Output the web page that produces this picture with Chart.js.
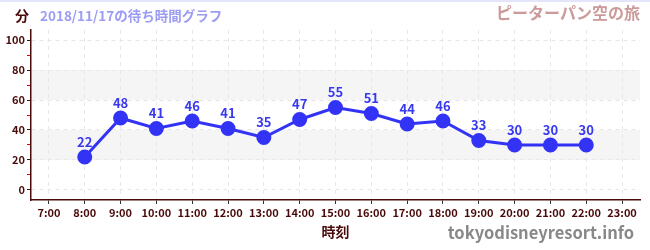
<!DOCTYPE html>
<html>
<head>
<meta charset="utf-8">
<script src="https://cdn.jsdelivr.net/npm/chart.js@4"></script>
<style>
  body { margin: 0; background: #fff; }
  #wrap { width: 650px; height: 250px; position: relative; }
</style>
</head>
<body>
<div id="wrap"><canvas id="waitChart"></canvas></div>
<script>
const hours = [8, 9, 10, 11, 12, 13, 14, 15, 16, 17, 18, 19, 20, 21, 22];
const waits = [22, 48, 41, 46, 41, 35, 47, 55, 51, 44, 46, 33, 30, 30, 30];
const xTicks = [7, 8, 9, 10, 11, 12, 13, 14, 15, 16, 17, 18, 19, 20, 21, 22, 23];
const yTicks = [0, 10, 20, 30, 40, 50, 60, 70, 80, 90, 100];
const bands = [[20, 40], [60, 80]];

const FONT = "'Noto Sans CJK JP', 'Noto Sans', sans-serif";
const BROWN = '#4a0a0a';

const bandsPlugin = {
  id: 'bands',
  beforeDraw(chart) {
    const { ctx, chartArea, scales } = chart;
    ctx.save();
    ctx.fillStyle = '#f5f5f5';
    bands.forEach(([lo, hi]) => {
      const top = scales.y.getPixelForValue(hi);
      const bot = scales.y.getPixelForValue(lo);
      ctx.fillRect(chartArea.left, top, chartArea.right - chartArea.left, bot - top);
    });
    // thin top border line
    ctx.fillStyle = '#e4e4fb';
    ctx.fillRect(0, 0, chart.width, 2);
    ctx.restore();
  }
};

const labelsPlugin = {
  id: 'pointLabels',
  afterDatasetsDraw(chart) {
    const { ctx } = chart;
    const meta = chart.getDatasetMeta(0);
    ctx.save();
    ctx.font = `bold 13px ${FONT}`;
    ctx.fillStyle = '#3838f0';
    ctx.textAlign = 'center';
    ctx.textBaseline = 'middle';
    meta.data.forEach((pt, i) => {
      ctx.fillText(String(waits[i]), pt.x, pt.y - 15);
    });
    ctx.restore();
  }
};

const textPlugin = {
  id: 'texts',
  afterDraw(chart) {
    const { ctx, chartArea } = chart;
    ctx.save();
    ctx.textBaseline = 'middle';

    ctx.font = `bold 14px ${FONT}`;
    ctx.fillStyle = BROWN;
    ctx.textAlign = 'center';
    ctx.fillText('分', 22, 16);

    ctx.font = `bold 13.5px ${FONT}`;
    ctx.fillStyle = '#9c9cf5';
    ctx.textAlign = 'left';
    ctx.fillText('2018/11/17の待ち時間グラフ', 40, 16);

    ctx.font = `bold 16px ${FONT}`;
    ctx.fillStyle = '#cc9a9a';
    ctx.textAlign = 'right';
    ctx.fillText('ピーターパン空の旅', 640, 13);

    ctx.font = `bold 14px ${FONT}`;
    ctx.fillStyle = BROWN;
    ctx.textAlign = 'center';
    ctx.fillText('時刻', (chartArea.left + chartArea.right) / 2, 232);

    ctx.font = `bold 16.5px ${FONT}`;
    ctx.fillStyle = '#888888';
    ctx.textAlign = 'right';
    ctx.fillText('tokyodisneyresort.info', 634, 233);
    ctx.restore();
  }
};

new Chart(document.getElementById('waitChart'), {
  type: 'line',
  data: {
    datasets: [{
      data: hours.map((h, i) => ({ x: h, y: waits[i] })),
      borderColor: '#3333f5',
      backgroundColor: '#3333f5',
      borderWidth: 3,
      pointRadius: 6,
      pointHoverRadius: 6,
      tension: 0,
      fill: false
    }]
  },
  options: {
    responsive: true,
    maintainAspectRatio: false,
    animation: false,
    layout: { padding: { top: 30, right: 10, left: 0, bottom: 0 } },
    plugins: { legend: { display: false }, tooltip: { enabled: false } },
    scales: {
      x: {
        type: 'linear',
        min: 6.5,
        max: 23.5,
        afterBuildTicks: s => { s.ticks = xTicks.map(v => ({ value: v })); },
        afterFit: s => { s.height = 50; },
        border: { color: BROWN, width: 1.5, dash: [4, 4] },
        grid: {
          color: '#e8e8e8',
          tickColor: '#333',
          tickLength: 4,
          tickBorderDash: []
        },
        ticks: {
          color: BROWN,
          font: { family: FONT, size: 11, weight: 'bold' },
          padding: 2,
          maxRotation: 0,
          autoSkip: false,
          callback: v => v + ':00'
        }
      },
      y: {
        min: -6.67,
        max: 106.67,
        afterBuildTicks: s => { s.ticks = yTicks.map(v => ({ value: v })); },
        afterFit: s => { s.width = 31; },
        border: { color: BROWN, width: 1.5, dash: [4, 4] },
        grid: {
          color: c => (c.tick && c.tick.value % 20 === 0) ? '#e6e6e6' : 'rgba(0,0,0,0)',
          tickColor: c => (c.tick && c.tick.value % 20 === 0) ? '#222' : '#e00000',
          tickLength: 4,
          tickBorderDash: []
        },
        ticks: {
          color: BROWN,
          font: { family: FONT, size: 11, weight: 'bold' },
          padding: 2,
          autoSkip: false,
          callback: v => (v % 20 === 0) ? String(v) : ''
        }
      }
    }
  },
  plugins: [bandsPlugin, labelsPlugin, textPlugin]
});
</script>
</body>
</html>
